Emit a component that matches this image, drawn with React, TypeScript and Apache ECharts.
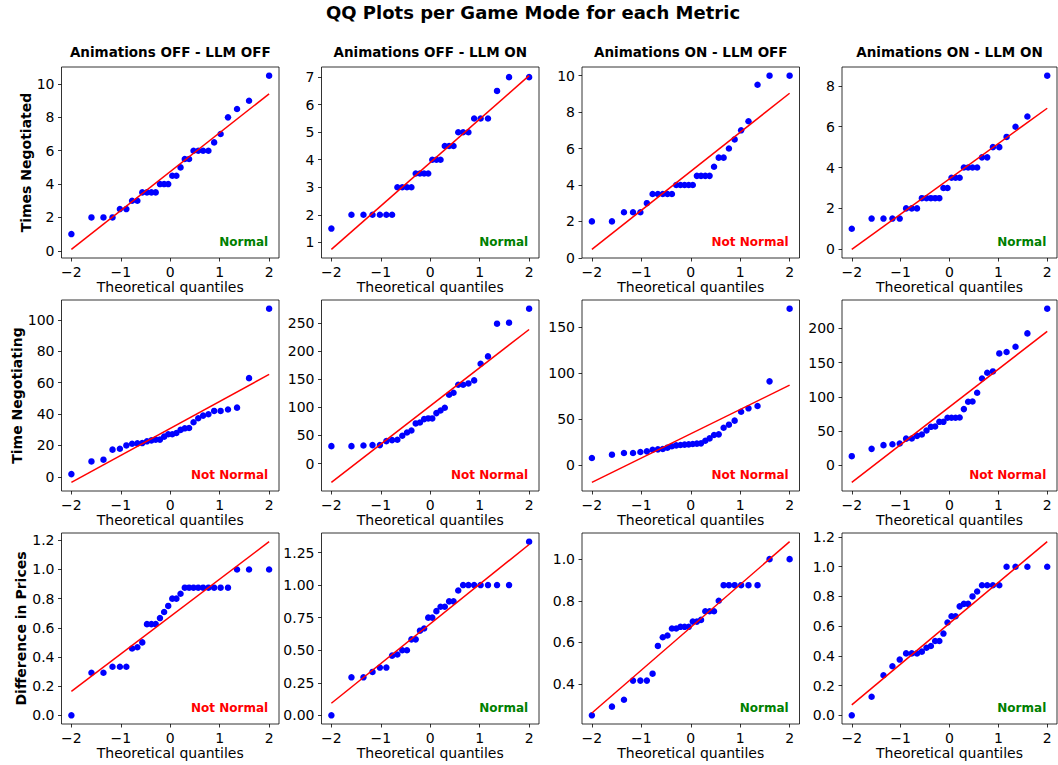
import React, { useEffect, useRef } from "react";
import * as echarts from "echarts";

// Game modes (columns) and metrics (rows)
const gameModes = [
  "Animations OFF - LLM OFF",
  "Animations OFF - LLM ON",
  "Animations ON - LLM OFF",
  "Animations ON - LLM ON",
];
const metricNames = ["Times Negotiated", "Time Negotiating", "Difference in Prices"];
const chartTitle = "QQ Plots per Game Mode for each Metric";

// Theoretical normal quantiles for a sample of 30 (Filliben order-statistic medians)
const theoreticalQuantiles = [
  -2.0, -1.594, -1.351, -1.168, -1.019, -0.888, -0.772, -0.665, -0.566, -0.471,
  -0.381, -0.294, -0.208, -0.124, -0.041, 0.041, 0.124, 0.208, 0.294, 0.381,
  0.471, 0.566, 0.665, 0.772, 0.888, 1.019, 1.168, 1.351, 1.594, 2.0,
];
const xTickValues = [-2, -1, 0, 1, 2];

// Ordered sample values — Times Negotiated
const timesNegotiatedOffOff = [1, 2, 2, 2, 2.5, 2.5, 3, 3, 3.5, 3.5, 3.5, 3.5, 4, 4, 4, 4.5, 4.5, 5, 5.5, 5.5, 6, 6, 6, 6, 6.5, 7, 8, 8.5, 9, 10.5];
const timesNegotiatedOffOn = [1.5, 2, 2, 2, 2, 2, 2, 3, 3, 3, 3, 3.5, 3.5, 3.5, 3.5, 4, 4, 4, 4.5, 4.5, 4.5, 5, 5, 5, 5.5, 5.5, 5.5, 6.5, 7, 7];
const timesNegotiatedOnOff = [2, 2, 2.5, 2.5, 2.5, 3, 3.5, 3.5, 3.5, 3.5, 3.5, 4, 4, 4, 4, 4, 4.5, 4.5, 4.5, 4.5, 5, 5.5, 5.5, 6, 6.5, 7, 7.5, 9.5, 10, 10];
const timesNegotiatedOnOn = [1, 1.5, 1.5, 1.5, 1.5, 2, 2, 2, 2.5, 2.5, 2.5, 2.5, 2.5, 3, 3, 3.5, 3.5, 3.5, 4, 4, 4, 4, 4.5, 4.5, 5, 5, 5.5, 6, 6.5, 8.5];

// Ordered sample values — Time Negotiating
const timeNegotiatingOffOff = [1.7, 9.8, 10.9, 17.3, 17.9, 20.0, 21.1, 21.3, 21.5, 22.6, 23.2, 23.7, 23.7, 25.6, 27.1, 27.1, 27.9, 29.9, 30.9, 31.1, 34.8, 37.3, 39.0, 39.9, 42.0, 42.0, 42.9, 44.1, 62.9, 107.2];
const timeNegotiatingOffOn = [30.9, 30.9, 32.0, 32.7, 32.7, 39.8, 41.6, 42.2, 49.3, 55.2, 58.8, 71.3, 73.0, 79.0, 80.2, 80.2, 89.7, 94.4, 99.2, 122.3, 125.9, 140.1, 140.1, 142.5, 147.9, 177.6, 190.6, 248.8, 250.6, 275.5];
const timeNegotiatingOnOff = [8.0, 11.6, 13.4, 13.4, 14.5, 15.2, 17.0, 17.4, 17.8, 19.2, 20.7, 21.7, 22.1, 22.5, 22.8, 23.2, 23.6, 23.9, 26.8, 29.3, 33.0, 33.7, 40.9, 44.2, 48.6, 58.3, 62.0, 64.5, 91.3, 170.3];
const timeNegotiatingOnOn = [13.2, 23.9, 29.3, 30.7, 31.7, 38.8, 39.0, 42.9, 44.9, 50.7, 56.1, 56.6, 63.4, 63.4, 69.3, 69.3, 69.3, 69.8, 82.0, 92.7, 93.2, 105.9, 126.8, 135.1, 137.1, 163.4, 165.4, 173.2, 192.7, 228.8];

// Ordered sample values — Difference in Prices
const priceDiffOffOff = [0.0, 0.2917, 0.2917, 0.3333, 0.3333, 0.3333, 0.4583, 0.4667, 0.5, 0.625, 0.625, 0.625, 0.6667, 0.7083, 0.75, 0.8, 0.8, 0.8333, 0.875, 0.875, 0.875, 0.875, 0.875, 0.875, 0.875, 0.875, 0.875, 1.0, 1.0, 1.0];
const priceDiffOffOn = [0.0, 0.2917, 0.2917, 0.3333, 0.3667, 0.3667, 0.4583, 0.4667, 0.5, 0.5, 0.5833, 0.5833, 0.65, 0.6667, 0.75, 0.75, 0.8, 0.8333, 0.8333, 0.875, 0.875, 0.9583, 1.0, 1.0, 1.0, 1.0, 1.0, 1.0, 1.0, 1.3333];
const priceDiffOnOff = [0.25, 0.2917, 0.325, 0.4167, 0.4167, 0.4167, 0.45, 0.5833, 0.625, 0.6333, 0.6667, 0.6667, 0.675, 0.675, 0.675, 0.7, 0.7, 0.7083, 0.75, 0.75, 0.75, 0.8, 0.875, 0.875, 0.875, 0.875, 0.875, 0.875, 1.0, 1.0];
const priceDiffOnOn = [0.0, 0.125, 0.27, 0.33, 0.375, 0.4167, 0.4167, 0.4167, 0.4286, 0.4545, 0.4667, 0.5, 0.5, 0.55, 0.625, 0.6667, 0.6667, 0.7333, 0.75, 0.75, 0.8, 0.8333, 0.875, 0.875, 0.875, 0.875, 1.0, 1.0, 1.0, 1.0];

// Normality verdicts shown in each panel
const timesNegotiatedVerdicts = ["Normal", "Normal", "Not Normal", "Normal"];
const timeNegotiatingVerdicts = ["Not Normal", "Not Normal", "Not Normal", "Not Normal"];
const priceDiffVerdicts = ["Not Normal", "Normal", "Normal", "Normal"];

// Y tick labels per panel
const timesNegotiatedTicks = [[0, 2, 4, 6, 8, 10], [1, 2, 3, 4, 5, 6, 7], [0, 2, 4, 6, 8, 10], [0, 2, 4, 6, 8]];
const timeNegotiatingTicks = [[0, 20, 40, 60, 80, 100], [0, 50, 100, 150, 200, 250], [0, 50, 100, 150], [0, 50, 100, 150, 200]];
const priceDiffTicks = [[0, 0.2, 0.4, 0.6, 0.8, 1.0, 1.2], [0, 0.25, 0.5, 0.75, 1.0, 1.25], [0.4, 0.6, 0.8, 1.0], [0, 0.2, 0.4, 0.6, 0.8, 1.0, 1.2]];
const priceDiffTickDecimals = [1, 2, 1, 1];

const rows = [
  { samples: [timesNegotiatedOffOff, timesNegotiatedOffOn, timesNegotiatedOnOff, timesNegotiatedOnOn], verdicts: timesNegotiatedVerdicts, ticks: timesNegotiatedTicks, decimals: [0, 0, 0, 0] },
  { samples: [timeNegotiatingOffOff, timeNegotiatingOffOn, timeNegotiatingOnOff, timeNegotiatingOnOn], verdicts: timeNegotiatingVerdicts, ticks: timeNegotiatingTicks, decimals: [0, 0, 0, 0] },
  { samples: [priceDiffOffOff, priceDiffOffOn, priceDiffOnOff, priceDiffOnOn], verdicts: priceDiffVerdicts, ticks: priceDiffTicks, decimals: priceDiffTickDecimals },
];

const FONT = "DejaVu Sans";
const TICK_SIZE = 14;
const LABEL_SIZE = 14;

// Panel layout (pixels)
const colLeft = [61.5, 321.5, 582, 842];
const colWidth = [217.5, 217.5, 217.5, 215];
const rowTop = [67, 300, 533];
const rowHeight = 191;
const yNameGap = [29, 37, 34];

const minus = (s: string) => s.replace("-", "\u2212");

function leastSquares(xs: number[], ys: number[]) {
  const n = xs.length;
  const mx = xs.reduce((a, b) => a + b, 0) / n;
  const my = ys.reduce((a, b) => a + b, 0) / n;
  let sxy = 0;
  let sxx = 0;
  for (let i = 0; i < n; i++) {
    sxy += (xs[i] - mx) * (ys[i] - my);
    sxx += (xs[i] - mx) * (xs[i] - mx);
  }
  const slope = sxy / sxx;
  return { slope, intercept: my - slope * mx };
}

export default function App() {
  const ref = useRef<HTMLDivElement>(null);

  useEffect(() => {
    if (!ref.current) return;
    const chart = echarts.init(ref.current, null, { renderer: "svg" });

    const grids: any[] = [];
    const xAxes: any[] = [];
    const yAxes: any[] = [];
    const series: any[] = [];
    const graphics: any[] = [];

    const xs = theoreticalQuantiles;
    const xLo = Math.min(...xs);
    const xHi = Math.max(...xs);
    const xPad = (xHi - xLo) * 0.05;

    rows.forEach((row, r) => {
      row.samples.forEach((ys, c) => {
        const idx = r * 4 + c;
        const { slope, intercept } = leastSquares(xs, ys);
        const lineData = [
          [xLo, intercept + slope * xLo],
          [xHi, intercept + slope * xHi],
        ];
        const allY = ys.concat(lineData.map((p) => p[1]));
        const yLo = Math.min(...allY);
        const yHi = Math.max(...allY);
        const yPad = (yHi - yLo) * 0.05;
        const dec = row.decimals[c];

        grids.push({
          left: colLeft[c],
          top: rowTop[r],
          width: colWidth[c],
          height: rowHeight,
          show: true,
          borderColor: "#000",
          borderWidth: 0.8,
          backgroundColor: "#fff",
        });

        xAxes.push({
          type: "value",
          gridIndex: idx,
          position: "bottom",
          min: xLo - xPad,
          max: xHi + xPad,
          name: "Theoretical quantiles",
          nameLocation: "middle",
          nameGap: 19,
          nameTextStyle: { fontFamily: FONT, fontSize: LABEL_SIZE, color: "#000" },
          axisLine: { show: false, onZero: false },
          splitLine: { show: false },
          minorTick: { show: false },
          axisTick: { show: true, length: 3.5, customValues: xTickValues, lineStyle: { color: "#000", width: 0.8 } },
          axisLabel: {
            customValues: xTickValues,
            margin: 7,
            fontFamily: FONT,
            fontSize: TICK_SIZE,
            color: "#000",
            formatter: (v: number) => minus(String(v)),
          },
        });

        yAxes.push({
          type: "value",
          gridIndex: idx,
          position: "left",
          min: yLo - yPad,
          max: yHi + yPad,
          name: c === 0 ? metricNames[r] : "",
          nameLocation: "middle",
          nameRotate: 90,
          nameGap: yNameGap[r],
          nameTextStyle: { fontFamily: FONT, fontSize: LABEL_SIZE, fontWeight: "bold", color: "#000" },
          axisLine: { show: false, onZero: false },
          splitLine: { show: false },
          minorTick: { show: false },
          axisTick: { show: true, length: 3.5, customValues: row.ticks[c], lineStyle: { color: "#000", width: 0.8 } },
          axisLabel: {
            customValues: row.ticks[c],
            margin: 7,
            fontFamily: FONT,
            fontSize: TICK_SIZE,
            color: "#000",
            formatter: (v: number) => minus(v.toFixed(dec)),
          },
        });

        series.push({
          type: "scatter",
          xAxisIndex: idx,
          yAxisIndex: idx,
          data: xs.map((q, k) => [q, ys[k]]),
          symbol: "circle",
          symbolSize: 6.5,
          itemStyle: { color: "#0000ff", opacity: 1 },
          z: 2,
        });
        series.push({
          type: "line",
          xAxisIndex: idx,
          yAxisIndex: idx,
          data: lineData,
          showSymbol: false,
          lineStyle: { color: "#ff0000", width: 1.5 },
          z: 3,
        });

        const verdict = row.verdicts[c];
        graphics.push({
          type: "text",
          x: colLeft[c] + colWidth[c] * 0.95,
          y: rowTop[r] + rowHeight * 0.95,
          style: {
            text: verdict,
            fill: verdict === "Normal" ? "#008000" : "#ff0000",
            font: `bold 12px "${FONT}"`,
            textAlign: "right",
            textVerticalAlign: "bottom",
          },
          z: 10,
        });
      });
    });

    gameModes.forEach((mode, c) => {
      graphics.push({
        type: "text",
        x: colLeft[c] + colWidth[c] / 2,
        y: 52,
        style: {
          text: mode,
          fill: "#000",
          font: `bold 13.5px "${FONT}"`,
          textAlign: "center",
          textVerticalAlign: "middle",
        },
      });
    });

    graphics.push({
      type: "text",
      x: 533,
      y: 12,
      style: {
        text: chartTitle,
        fill: "#000",
        font: `bold 18px "${FONT}"`,
        textAlign: "center",
        textVerticalAlign: "middle",
      },
    });

    chart.setOption({
      animation: false,
      backgroundColor: "#fff",
      grid: grids,
      xAxis: xAxes,
      yAxis: yAxes,
      series,
      graphic: graphics,
    });

    return () => chart.dispose();
  }, []);

  return (
    <div
      ref={ref}
      style={{ position: "absolute", left: 0, top: 0, width: 1058, height: 765, background: "#fff" }}
    />
  );
}
